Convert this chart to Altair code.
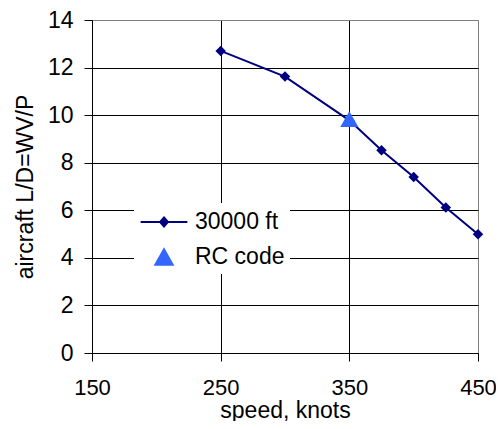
import altair as alt
import pandas as pd

# ---- data ----
speed = [250, 300, 350, 375, 400, 425, 450]
ld_30000 = [12.70, 11.62, 9.78, 8.52, 7.40, 6.12, 4.99]
rc_speed = [350]
rc_ld = [9.83]

series_names = ["30000 ft", "RC code"]
series_colors = ["#000080", "#3366FF"]
x_ticks = [150, 250, 350, 450]
y_ticks = [0, 2, 4, 6, 8, 10, 12, 14]

FONT = "Liberation Sans"
FS = 23

line_df = pd.DataFrame({"speed": speed, "ld": ld_30000})
rc_df = pd.DataFrame({"speed": rc_speed, "ld": rc_ld})
legend_df = pd.DataFrame({"series": series_names, "speed": [None, None], "ld": [None, None]})

x_enc = alt.X(
    "speed:Q",
    scale=alt.Scale(domain=[150, 450], nice=False, zero=False),
    axis=alt.Axis(
        values=x_ticks, title="speed, knots", grid=True,
        gridColor={"condition": {"test": "datum.value === 450", "value": "#808080"}, "value": "black"},
        gridWidth=1, domainColor="black", tickColor="black", tickSize=8,
        labelFont=FONT, labelFontSize=22, labelColor="black", labelPadding=16,
        labelFlush=False, labelOverlap=False,
        titleFont=FONT, titleFontSize=FS, titleFontWeight="normal", titleColor="black",
        titlePadding=1,
    ),
)
y_enc = alt.Y(
    "ld:Q",
    scale=alt.Scale(domain=[0, 14], nice=False),
    axis=alt.Axis(
        values=y_ticks, title="aircraft L/D=WV/P", grid=True,
        gridColor={"condition": {"test": "datum.value === 14", "value": "#808080"}, "value": "black"},
        gridWidth=1, domainColor="black", tickColor="black", tickSize=8,
        labelFont=FONT, labelFontSize=FS, labelColor="black", labelPadding=11,
        labelFlush=False, labelOverlap=False,
        titleFont=FONT, titleFontSize=FS, titleFontWeight="normal", titleColor="black",
        titlePadding=10,
    ),
)

line = alt.Chart(line_df).mark_line(color=series_colors[0], strokeWidth=2).encode(x=x_enc, y=y_enc)
diamonds = alt.Chart(line_df).mark_point(
    shape="diamond", filled=True, color=series_colors[0], size=110, opacity=1
).encode(x="speed:Q", y="ld:Q")
tri = alt.Chart(rc_df).mark_point(
    shape="triangle-up", filled=True, color=series_colors[1], size=330, opacity=1
).encode(x="speed:Q", y="ld:Q")

legend_paths = [
    "M-1.67,0L1.67,0M0,-0.32L0.28,0L0,0.32L-0.28,0Z",
    "M0,-0.55L0.62,0.55L-0.62,0.55Z",
]
leg = alt.Legend(
    title=None, orient="none", legendX=42, legendY=183,
    fillColor="white", strokeColor="white", padding=4,
    symbolSize=784, symbolOffset=11, labelOffset=16, rowPadding=8,
    labelFont=FONT, labelFontSize=FS, labelColor="black",
    symbolStrokeWidth=2, symbolOpacity=1,
)
legend_layer = alt.Chart(legend_df).mark_point(filled=True, opacity=1).encode(
    x="speed:Q", y="ld:Q",
    shape=alt.Shape("series:N", scale=alt.Scale(domain=series_names, range=legend_paths), legend=leg),
    fill=alt.Fill("series:N", scale=alt.Scale(domain=series_names, range=series_colors), legend=leg),
    stroke=alt.Stroke("series:N", scale=alt.Scale(domain=series_names, range=series_colors), legend=leg),
).transform_filter("false")

chart = alt.layer(line, diamonds, tri, legend_layer).properties(
    width=386, height=333,
    autosize="none",
    padding={"left": 84, "top": 12, "right": 18, "bottom": 68},
).configure_view(
    fill="#DDDDDD", stroke="#808080", strokeWidth=1.5
).configure(background="white")

chart.save("out.html", embed_options={"renderer": "svg", "actions": False})
